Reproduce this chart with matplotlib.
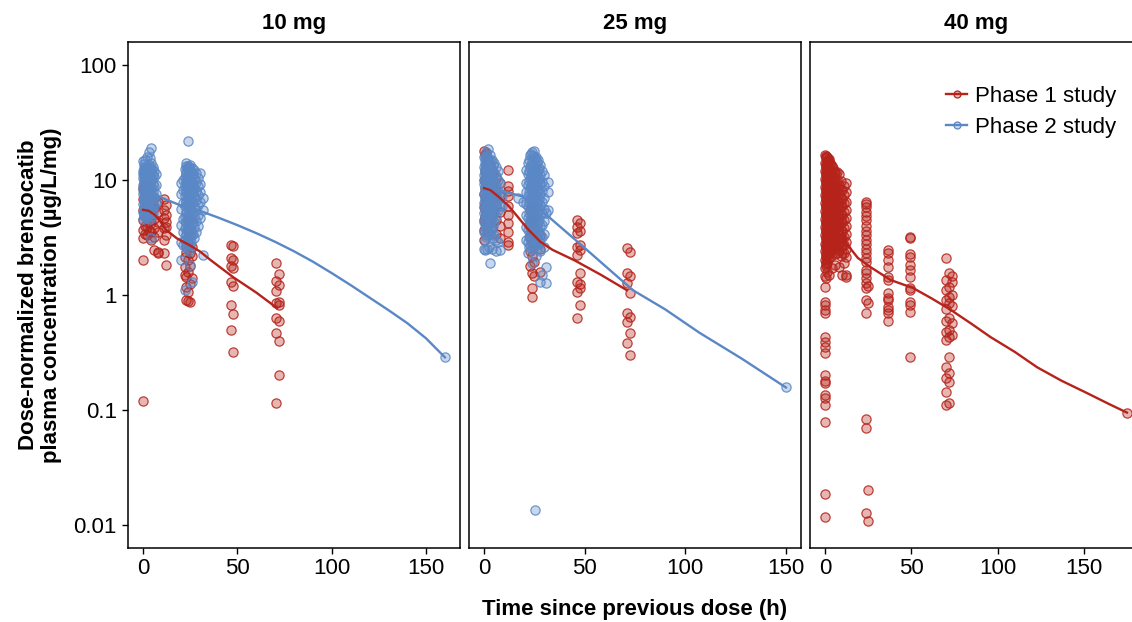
import numpy as np
import matplotlib
matplotlib.use("Agg")
import matplotlib.pyplot as plt
from matplotlib.lines import Line2D

plt.rcParams['font.family'] = ['Liberation Sans', 'DejaVu Sans']

red = '#B5231B'
blue = '#5A87C5'
fs = 16

# ---------------- 10 mg ----------------
# phase 1 study: nominal time (h) -> concentrations (ug/L/mg)
p1_10_t = [0, 1, 2, 3, 4, 6, 8, 11, 12, 22, 23, 24, 25, 26, 46.5, 47.5, 70.5, 72]
p1_10_c = [
    [8.5, 6.8, 5.5, 4.5, 3.7, 3.15, 2.0, 0.12],
    [9.0, 7.2, 6.0, 4.9, 4.0, 3.4],
    [8.8, 7.0, 5.8, 4.7, 3.9, 3.3],
    [8.0, 6.5, 5.3, 4.3, 3.6],
    [7.6, 6.2, 5.1, 4.2, 3.5, 3.0],
    [7.0, 5.7, 4.6, 3.8, 3.2, 2.47],
    [6.5, 5.3, 4.3, 3.5, 2.37, 2.3],
    [6.8, 5.5, 4.7, 3.85, 3.0, 2.33],
    [6.1, 5.0, 4.3, 3.9, 3.34, 1.83],
    [3.0, 2.15, 1.76, 1.5],
    [2.6, 2.37, 1.44, 1.17, 0.9],
    [4.5, 3.6, 2.85, 2.0, 1.6, 1.06, 0.88],
    [3.3, 2.33, 1.8, 1.25, 0.87],
    [2.6, 2.2, 1.4],
    [2.73, 2.1, 1.8, 1.3, 0.82, 0.5],
    [2.68, 2.0, 1.7, 1.2, 0.68, 0.32],
    [1.9, 1.32, 1.08, 0.85, 0.63, 0.47, 0.116],
    [1.53, 1.22, 0.87, 0.82, 0.6, 0.4, 0.2],
]
p1_10_line_t = [0, 3, 6, 9, 12, 18, 24, 30, 36, 48, 60, 71]
p1_10_line_c = [5.5, 5.4, 5.0, 4.4, 3.7, 3.1, 2.75, 2.4, 2.0, 1.42, 1.05, 0.77]

# phase 2 study
p2_10_t = [0, 0.25, 0.5, 0.75, 1, 1.5, 2, 2.5, 3, 3.5, 4, 4.5, 5, 6, 7,
           20, 21, 22, 22.5, 23, 23.5, 24, 24.5, 25, 25.5, 26, 26.5, 27, 28, 29,
           30, 32, 160]
p2_10_c = [
    [14.5, 12.0, 10.5, 9.0, 7.5, 6.2, 5.3, 4.6, 11.3, 8.2],
    [13.8, 11.0, 9.4, 7.8, 6.6, 5.6, 4.9],
    [13.0, 10.0, 8.8, 7.0, 5.8, 5.0, 12.2],
    [12.6, 10.4, 8.6, 7.2, 6.1, 5.1],
    [15.0, 11.5, 9.5, 8.0, 6.5, 5.5, 4.8, 10.2],
    [12.5, 10.8, 9.2, 7.3, 6.0, 5.2],
    [16.0, 13.0, 11.0, 9.8, 8.5, 7.0, 5.6, 4.7],
    [12.0, 10.0, 8.0, 6.6, 5.4],
    [17.4, 13.5, 11.8, 10.4, 9.0, 7.6, 6.3, 5.1],
    [15.4, 12.6, 10.8, 9.2, 7.9, 6.6, 5.6, 4.6],
    [19.0, 14.0, 12.0, 10.0, 8.4, 6.8, 5.5, 3.15],
    [12.4, 10.3, 8.6, 7.3, 6.0, 4.9],
    [13.0, 11.0, 9.3, 7.8, 6.2, 5.2],
    [12.0, 10.6, 8.8, 7.1, 5.9],
    [11.2, 9.1, 7.6, 6.4],
    [7.5, 5.6, 4.1, 2.9, 2.0, 9.5],
    [10.0, 8.2, 6.3, 4.6, 3.5, 2.7],
    [12.5, 10.6, 8.9, 7.2, 5.9, 4.8, 3.8, 3.0, 1.1],
    [13.2, 11.2, 9.4, 7.9, 6.4, 5.2, 4.2, 3.3, 2.7],
    [14.0, 11.8, 9.7, 8.0, 6.6, 5.3, 4.3, 3.4, 2.6],
    [12.6, 10.4, 8.8, 7.1, 5.9, 4.7, 3.7, 2.9],
    [21.7, 13.2, 11.0, 9.2, 7.5, 6.2, 5.0, 4.0, 3.2, 2.5],
    [12.9, 10.7, 9.0, 7.3, 6.0, 4.9, 3.9, 3.0, 2.4],
    [13.5, 12.0, 10.1, 8.4, 7.0, 5.7, 4.5, 3.6, 2.8, 1.83],
    [11.8, 9.8, 8.2, 6.8, 5.6, 4.6, 3.7, 2.9],
    [12.8, 10.8, 9.0, 7.6, 6.4, 5.2, 4.2, 3.3, 1.3],
    [11.2, 9.4, 7.9, 6.5, 5.3, 4.3, 3.4],
    [12.2, 10.2, 8.6, 7.2, 5.9, 4.9, 3.9, 3.1],
    [11.5, 9.6, 8.1, 6.7, 5.5, 4.4, 3.5],
    [10.5, 8.8, 7.4, 6.1, 5.0, 4.0],
    [11.6, 9.3, 7.8, 6.5, 4.7],
    [7.0, 5.5, 2.23],
    [0.287],
]
p2_10_line_t = [0, 10, 20, 30, 40, 50, 60, 70, 80, 90, 100, 110, 120, 130, 140, 150, 160]
p2_10_line_c = [8.5, 7.0, 6.0, 5.4, 4.7, 4.05, 3.45, 2.9, 2.4, 1.95, 1.55, 1.22,
                0.95, 0.74, 0.57, 0.42, 0.287]

# ---------------- 25 mg ----------------
p1_25_t = [0, 0.5, 1, 2, 3, 4, 6, 8, 12, 23, 24, 25, 28, 46, 47.5, 71, 72.5]
p1_25_c = [
    [18.0, 10.0, 7.5, 5.8, 4.5, 3.7, 3.0],
    [16.5, 12.0, 8.5, 6.2, 4.8],
    [17.0, 13.5, 9.5, 7.0, 5.2, 4.0],
    [15.0, 11.0, 8.0, 6.0, 4.6, 3.5],
    [13.0, 9.8, 7.3, 5.5, 4.2],
    [12.0, 9.0, 6.8, 5.0, 3.8],
    [10.5, 8.0, 6.0, 4.5, 3.4],
    [9.5, 7.2, 5.3, 4.0, 3.1],
    [12.3, 8.8, 8.0, 7.2, 6.0, 5.0, 4.25, 3.55, 2.9, 2.73],
    [5.5, 4.2, 3.2, 2.4, 1.8],
    [6.0, 4.6, 3.5, 2.85, 2.2, 1.55, 1.15, 0.96],
    [5.0, 3.8, 2.9, 1.94, 1.45],
    [3.3, 2.5, 1.6],
    [4.5, 3.9, 3.45, 2.6, 2.23, 1.3, 1.06, 0.63],
    [4.25, 3.6, 2.73, 2.45, 1.55, 1.25, 1.15, 0.82],
    [2.57, 1.55, 1.27, 0.7, 0.58, 0.38],
    [2.37, 1.45, 1.04, 0.64, 0.47, 0.3],
]
p1_25_line_t = [0, 3, 7, 12, 15, 22, 28, 34, 45, 58, 71]
p1_25_line_c = [8.5, 8.2, 7.2, 6.0, 5.2, 3.7, 2.9, 2.47, 2.0, 1.5, 1.1]

p2_25_t = [0, 0.25, 0.5, 0.75, 1, 1.5, 2, 2.5, 3, 3.5, 4, 4.5, 5, 6, 7, 8, 9, 17, 19.5,
           21, 22, 22.5, 23, 23.5, 24, 24.5, 25, 25.4, 25.5, 26, 26.5, 27, 27.5, 28,
           29, 30, 31, 32, 150]
p2_25_c = [
    [16.0, 13.0, 11.0, 9.2, 7.6, 6.3, 5.2, 4.3, 3.5, 2.5],
    [15.2, 12.4, 10.3, 8.5, 7.0, 5.8, 4.7, 3.8, 3.0],
    [14.0, 11.5, 9.8, 8.1, 6.7, 5.5, 4.5, 2.45],
    [16.2, 13.2, 10.9, 9.0, 7.4, 6.1, 5.0, 4.1, 3.3],
    [17.5, 15.0, 12.3, 10.2, 8.5, 7.0, 5.8, 4.8, 3.9, 3.2],
    [13.2, 11.0, 9.0, 7.4, 6.1, 5.0, 2.5],
    [18.5, 15.5, 12.8, 10.6, 8.8, 7.3, 6.0, 4.9, 4.0, 3.3],
    [14.2, 11.8, 9.6, 7.9, 6.5, 5.3, 2.6],
    [16.5, 13.5, 11.2, 9.3, 7.7, 6.3, 5.1, 4.2, 3.4, 1.9],
    [14.6, 12.0, 9.9, 8.2, 6.8, 5.6, 4.5, 3.6],
    [15.0, 12.5, 10.4, 8.6, 7.1, 5.8, 4.7, 3.8, 2.5],
    [13.4, 11.0, 9.1, 7.5, 6.2, 5.0, 4.0, 3.1],
    [14.0, 11.6, 9.6, 7.9, 6.5, 5.3, 4.3, 3.3],
    [13.0, 10.8, 8.9, 7.3, 6.0, 4.9, 3.0, 2.4],
    [12.0, 10.0, 8.2, 6.7, 5.5, 2.9],
    [9.5, 7.5, 6.0, 2.45],
    [7.3, 5.9],
    [7.0],
    [6.5],
    [12.3, 9.5, 7.8, 6.2, 5.0, 3.9, 3.0],
    [14.0, 11.2, 9.0, 7.3, 5.9, 4.7, 3.7, 2.9, 2.3],
    [15.0, 12.0, 9.8, 7.9, 6.4, 5.2, 4.1, 3.2, 2.6],
    [16.5, 13.0, 10.5, 8.5, 6.9, 5.6, 4.5, 3.5, 2.7],
    [16.8, 13.6, 11.2, 9.1, 7.4, 6.0, 4.8, 3.8, 3.0],
    [17.4, 14.5, 12.0, 9.8, 8.0, 6.5, 5.3, 4.2, 3.3, 2.5, 1.9],
    [16.2, 13.2, 10.8, 8.8, 7.2, 5.8, 4.6, 3.6, 2.8],
    [17.8, 15.2, 12.5, 10.2, 8.3, 6.8, 5.5, 4.4, 3.5, 2.6],
    [0.0135],
    [15.5, 12.8, 10.5, 8.6, 7.0, 5.7, 4.6, 3.6, 2.8],
    [16.0, 13.5, 11.0, 9.0, 7.4, 6.0, 4.8, 3.8, 3.0, 2.2],
    [14.2, 11.6, 9.5, 7.8, 6.3, 5.1, 4.0, 3.2, 2.5],
    [14.8, 12.2, 10.0, 8.1, 6.6, 5.4, 4.3, 3.4, 2.8],
    [12.8, 10.4, 8.5, 6.9, 5.6, 4.5, 3.6, 2.9],
    [13.5, 11.0, 9.2, 7.5, 6.1, 5.0, 4.0, 3.1, 2.4, 1.3],
    [12.0, 9.7, 8.0, 6.5, 5.2, 4.1, 3.2, 1.5],
    [11.0, 8.8, 7.0, 5.6, 4.4, 3.4, 2.6],
    [5.2, 1.27, 1.75],
    [9.7, 7.8, 5.5],
    [0.157],
]
p2_25_line_t = [0, 7, 19, 32, 47, 60, 74, 90, 107, 128, 150]
p2_25_line_c = [9.0, 8.2, 7.2, 4.8, 2.85, 1.8, 1.1, 0.75, 0.47, 0.28, 0.157]

# ---------------- 40 mg ----------------
p1_40_t = [0, 0.25, 0.5, 0.75, 1, 1.25, 1.5, 1.75, 2, 2.5, 3, 3.5, 4, 4.5, 5, 5.5, 6, 7,
           8, 9, 10, 11, 12, 24, 25, 36.5, 49.5, 70, 72, 73.5, 175]
p1_40_c = [
    [16.5, 14.0, 12.0, 10.2, 8.7, 7.4, 6.3, 5.4, 4.6, 3.9, 3.3, 2.8, 2.4,
     2.0, 1.7, 1.45, 1.17, 0.87, 0.82, 0.74, 0.7, 0.43, 0.39, 0.35, 0.31,
     0.2, 0.18, 0.17, 0.134, 0.126, 0.11, 0.078, 0.0187, 0.0117],
    [15.8, 13.3, 11.3, 9.6, 8.2, 6.9, 5.9, 5.0, 4.3, 3.6, 3.1, 2.6, 2.2, 1.8, 1.4],
    [15.5, 13.0, 11.0, 9.4, 8.0, 6.8, 5.8, 4.9, 4.2, 3.6, 3.0, 2.6, 2.2, 1.85],
    [16.2, 13.8, 11.8, 10.0, 8.5, 7.2, 6.1, 5.2, 4.4, 3.8, 3.2, 2.7, 2.3, 1.95],
    [16.0, 13.6, 11.6, 9.8, 8.3, 7.1, 6.0, 5.1, 4.3, 3.7, 3.1, 2.65, 2.25, 1.9, 1.6],
    [14.4, 12.2, 10.4, 8.8, 7.5, 6.4, 5.4, 4.6, 3.95, 3.35, 2.85, 2.4, 2.05],
    [14.8, 12.4, 10.5, 8.9, 7.6, 6.5, 5.5, 4.7, 4.0, 3.4, 2.9, 2.45],
    [15.0, 12.9, 11.0, 9.3, 7.9, 6.7, 5.7, 4.8, 4.1, 3.5, 3.0, 2.5],
    [15.2, 12.8, 10.8, 9.1, 7.8, 6.6, 5.6, 4.8, 4.1, 3.5, 2.95, 2.5, 2.1, 1.5],
    [14.5, 12.2, 10.3, 8.7, 7.4, 6.3, 5.3, 4.5, 3.8, 3.25, 2.75, 2.35],
    [14.0, 11.8, 10.0, 8.5, 7.2, 6.1, 5.2, 4.4, 3.75, 3.2, 2.7, 2.3],
    [13.6, 11.5, 9.8, 8.3, 7.0, 5.9, 5.0, 4.3, 3.6, 3.1, 2.6, 2.2],
    [13.2, 11.2, 9.5, 8.0, 6.8, 5.8, 4.9, 4.2, 3.6, 3.0, 2.5, 1.72],
    [12.6, 10.7, 9.1, 7.7, 6.6, 5.6, 4.8, 4.1, 3.5, 2.95, 2.5],
    [12.0, 10.3, 8.8, 7.5, 6.4, 5.4, 4.6, 3.9, 3.3, 2.8],
    [11.7, 10.0, 8.5, 7.2, 6.2, 5.3, 4.5, 3.8, 3.2, 2.7, 2.25],
    [11.5, 9.8, 8.3, 7.0, 6.0, 5.1, 4.3, 3.7, 3.1, 2.6, 1.83],
    [11.8, 10.0, 8.5, 7.2, 6.1, 5.2, 4.4, 3.7, 3.15, 2.7, 2.3],
    [11.2, 9.0, 7.6, 6.4, 5.5, 4.7, 4.0, 3.4, 2.9, 2.45, 1.75],
    [9.8, 8.3, 7.0, 6.0, 5.1, 4.3, 3.7, 3.1, 2.6, 2.2],
    [8.2, 6.9, 5.9, 5.0, 4.3, 3.6, 3.1, 2.65, 2.3, 1.5],
    [8.8, 7.4, 6.3, 5.3, 4.5, 3.8, 3.2, 2.7, 2.3, 1.9],
    [9.5, 7.8, 6.5, 5.5, 4.7, 4.0, 3.4, 2.9, 2.5, 2.15, 1.5, 1.44],
    [6.5, 6.2, 5.8, 5.3, 4.9, 4.5, 4.0, 3.6, 3.3, 3.0, 2.8, 2.5, 2.3, 2.1,
     1.95, 1.65, 1.55, 1.4, 1.27, 1.15, 0.9, 0.7, 0.084, 0.07, 0.0127],
    [1.2, 0.85, 0.02, 0.0108],
    [2.47, 2.3, 2.0, 1.76, 1.44, 1.35, 1.04, 0.95, 0.9, 0.79, 0.74, 0.7, 0.6],
    [3.2, 3.1, 2.25, 2.15, 1.83, 1.65, 1.44, 1.15, 1.1, 0.87, 0.82, 0.71, 0.29],
    [2.1, 1.35, 1.1, 0.9, 0.75, 0.6, 0.48, 0.41, 0.235, 0.19, 0.142, 0.11],
    [1.55, 1.18, 0.96, 0.85, 0.63, 0.5, 0.43, 0.29, 0.21, 0.175, 0.116],
    [1.45, 1.3, 1.0, 0.8, 0.57, 0.45],
    [0.095],
]
p1_40_line_t = [0, 2, 4, 8, 12, 19, 26, 38, 51, 62, 73, 85, 96, 110, 123, 137, 152, 165, 175]
p1_40_line_c = [6.5, 7.2, 6.8, 4.6, 2.85, 2.1, 1.76, 1.35, 1.15, 0.93, 0.74, 0.56, 0.43,
                0.32, 0.235, 0.18, 0.14, 0.112, 0.095]

panels = ['10 mg', '25 mg', '40 mg']
x_max = [160, 150, 175]


def flat(times, concs):
    t = [tt for tt, cc in zip(times, concs) for _ in cc]
    c = [v for cc in concs for v in cc]
    return np.array(t), np.array(c)


def draw(ax, times, concs, lt, lc, col):
    t, c = flat(times, concs)
    ax.scatter(t, c, s=44, facecolor=matplotlib.colors.to_rgba(col, 0.33),
               edgecolor=matplotlib.colors.to_rgba(col, 0.85), linewidth=0.9, zorder=2)
    ax.plot(lt, lc, color=col, lw=1.7, zorder=3)


fig = plt.figure(figsize=(11.32, 6.22), dpi=100)
W, H = 1132.0, 622.0
lefts = [128, 469, 810]
width = 332
bottom_px, top_px = 548, 42
axes = []
for i, l in enumerate(lefts):
    ax = fig.add_axes([l / W, 1 - bottom_px / H, width / W, (bottom_px - top_px) / H])
    ax.set_yscale('log')
    ax.set_ylim(10 ** -2.2, 10 ** 2.2)
    ax.set_xlim(-0.05 * x_max[i], 1.05 * x_max[i])
    ax.set_xticks([0, 50, 100, 150])
    ax.tick_params(axis='x', direction='out', length=4, width=1, labelsize=fs, pad=3)
    ax.minorticks_off()
    if i == 0:
        ax.set_yticks([0.01, 0.1, 1, 10, 100])
        ax.set_yticklabels(['0.01', '0.1', '1', '10', '100'])
        ax.tick_params(axis='y', direction='out', length=4, width=1, labelsize=fs, pad=4)
    else:
        ax.set_yticks([])
    for s in ax.spines.values():
        s.set_linewidth(1.1)
    fig.text((l + width / 2) / W, 1 - 24 / H, panels[i], ha='center', va='center',
             fontsize=fs, fontweight='bold')
    axes.append(ax)

draw(axes[0], p1_10_t, p1_10_c, p1_10_line_t, p1_10_line_c, red)
draw(axes[0], p2_10_t, p2_10_c, p2_10_line_t, p2_10_line_c, blue)
draw(axes[1], p1_25_t, p1_25_c, p1_25_line_t, p1_25_line_c, red)
draw(axes[1], p2_25_t, p2_25_c, p2_25_line_t, p2_25_line_c, blue)
draw(axes[2], p1_40_t, p1_40_c, p1_40_line_t, p1_40_line_c, red)

handles = [
    Line2D([], [], color=red, lw=1.7, marker='o', ms=5,
           mfc=matplotlib.colors.to_rgba(red, 0.3), mec=red, mew=0.9, label='Phase 1 study'),
    Line2D([], [], color=blue, lw=1.7, marker='o', ms=5,
           mfc=matplotlib.colors.to_rgba(blue, 0.3), mec=blue, mew=0.9, label='Phase 2 study'),
]
axes[2].legend(handles=handles, loc='upper left', bbox_to_anchor=(946 / W, 1 - 86 / H),
               bbox_transform=fig.transFigure, frameon=False, fontsize=fs,
               handlelength=0.95, handletextpad=0.35, labelspacing=0.45,
               borderpad=0, borderaxespad=0)

fig.text(635 / W, 1 - 609 / H, 'Time since previous dose (h)', ha='center', va='center',
         fontsize=fs, fontweight='bold')
fig.text(40 / W, 1 - 295 / H, 'Dose-normalized brensocatib\nplasma concentration (µg/L/mg)',
         ha='center', va='center', rotation=90, fontsize=fs, fontweight='bold',
         linespacing=1.1)

fig.savefig('out.png', dpi=100)
